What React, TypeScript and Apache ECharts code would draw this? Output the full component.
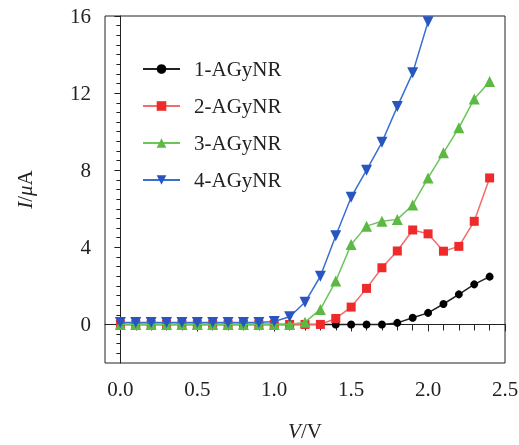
import React, { useEffect, useRef } from "react";
import * as echarts from "echarts";

const V = [0, 0.1, 0.2, 0.3, 0.4, 0.5, 0.6, 0.7, 0.8, 0.9, 1.0, 1.1, 1.2, 1.3, 1.4, 1.5, 1.6, 1.7, 1.8, 1.9, 2.0, 2.1, 2.2, 2.3, 2.4];
const s1 = [0, 0, 0, 0, 0, 0, 0, 0, 0, 0, 0, 0, 0, 0, 0, 0, 0, 0, 0.08, 0.35, 0.6, 1.06, 1.56, 2.08, 2.48];
const s2 = [0, 0, 0, 0, 0, 0, 0, 0, 0, 0, 0, 0, 0, 0, 0.31, 0.9, 1.87, 2.94, 3.81, 4.9, 4.7, 3.8, 4.05, 5.35, 7.6];
const s3 = [0, 0, 0, 0, 0, 0, 0, 0, 0, 0, 0, 0, 0.12, 0.78, 2.25, 4.15, 5.1, 5.35, 5.45, 6.2, 7.6, 8.9, 10.2, 11.7, 12.6];
const s4 = [0.1, 0.1, 0.1, 0.1, 0.1, 0.1, 0.1, 0.1, 0.1, 0.1, 0.15, 0.4, 1.15, 2.5, 4.6, 6.6, 8.0, 9.45, 11.3, 13.05, 15.7];
const names = ["1-AGyNR", "2-AGyNR", "3-AGyNR", "4-AGyNR"];

const xMajor = [0, 0.5, 1.0, 1.5, 2.0, 2.5];
const xMinor = [0, 0.1, 0.2, 0.3, 0.4, 0.5, 0.6, 0.7, 0.8, 0.9, 1.0, 1.1, 1.2, 1.3, 1.4, 1.5, 1.6, 1.7, 1.8, 1.9, 2.0, 2.1, 2.2, 2.3, 2.4, 2.5];
const yMajor = [0, 4, 8, 12, 16];
const yMinor = [-1.5, -1, -0.5, 0, 0.5, 1, 1.5, 2, 2.5, 3, 3.5, 4, 4.5, 5, 5.5, 6, 6.5, 7, 7.5, 8, 8.5, 9, 9.5, 10, 10.5, 11, 11.5, 12, 12.5, 13, 13.5, 14, 14.5, 15, 15.5];

const FONT = "'Liberation Serif', 'DejaVu Serif', serif";

export default function App() {
  const ref = useRef<HTMLDivElement>(null);
  useEffect(() => {
    if (!ref.current) return;
    const chart = echarts.init(ref.current, null, { renderer: "svg" });
    const mk = (d: number[]) => d.map((y, i) => [V[i], y]);
    const styles = [
      { sym: "circle", size: 8, c: "#000000", lc: "#222222", rot: 0 },
      { sym: "rect", size: 9, c: "#ee2a2a", lc: "#f56a6a", rot: 0 },
      { sym: "triangle", size: 11, c: "#5cb944", lc: "#6cc55a", rot: 0 },
      { sym: "triangle", size: 11, c: "#2855c0", lc: "#3a6fd0", rot: 180 },
    ];
    const data = [s1, s2, s3, s4];
    const axisColor = "#222";
    chart.setOption({
      animation: false,
      grid: { left: 105, right: 14, top: 16, bottom: 82, show: true, borderColor: axisColor, borderWidth: 1, containLabel: false, outerBoundsMode: "none" },
      legend: {
        orient: "vertical",
        left: 137,
        top: 52,
        itemWidth: 37,
        itemHeight: 12,
        itemGap: 13,
        data: names,
        textStyle: { fontFamily: FONT, fontSize: 21, color: "#222", lineHeight: 24, padding: [0, 0, 0, 9] },
      },
      xAxis: [
        {
          type: "value", min: -0.1, max: 2.5, position: "bottom",
          name: "{i|V}/V", nameLocation: "middle", nameGap: 57,
          nameTextStyle: { fontFamily: FONT, fontSize: 21, lineHeight: 22, color: "#222", rich: { i: { fontFamily: FONT, fontSize: 21, lineHeight: 22, fontStyle: "italic", color: "#222" } } },
          axisLine: { show: true, lineStyle: { color: axisColor, width: 1 } },
          axisTick: { show: true, inside: false, length: 7, customValues: xMajor, lineStyle: { color: axisColor } },
          axisLabel: { customValues: xMajor, formatter: (v: number) => v.toFixed(1), margin: 15, fontFamily: FONT, fontSize: 21, color: "#222" },
          splitLine: { show: false },
        },
        {
          type: "value", min: -0.1, max: 2.5, position: "bottom", offset: 0,
          axisLine: { show: false },
          axisTick: { show: true, inside: false, length: 6, customValues: xMinor, lineStyle: { color: axisColor } },
          axisLabel: { show: false },
          splitLine: { show: false },
        },
      ],
      yAxis: [
        {
          type: "value", min: -2, max: 16, position: "left",
          name: "{i|I}/{i|μ}A", nameLocation: "middle", nameGap: 70, nameRotate: 90,
          nameTextStyle: { fontFamily: FONT, fontSize: 21, color: "#222", rich: { i: { fontFamily: FONT, fontSize: 21, fontStyle: "italic", color: "#222" } } },
          axisLine: { show: true, lineStyle: { color: axisColor, width: 1 } },
          axisTick: { show: true, inside: false, length: 6, customValues: yMajor, lineStyle: { color: axisColor } },
          axisLabel: { customValues: yMajor, margin: 14, fontFamily: FONT, fontSize: 21, color: "#222" },
          splitLine: { show: false },
        },
        {
          type: "value", min: -2, max: 16, position: "left", offset: 0,
          axisLine: { show: false },
          axisTick: { show: true, inside: false, length: 4, customValues: yMinor, lineStyle: { color: axisColor } },
          axisLabel: { show: false },
          splitLine: { show: false },
        },
      ],
      series: data.map((d, i) => ({
        name: names[i],
        type: "line",
        xAxisIndex: 0,
        yAxisIndex: 0,
        data: mk(d),
        symbol: styles[i].sym,
        symbolSize: styles[i].size,
        symbolRotate: styles[i].rot,
        showAllSymbol: true,
        itemStyle: { color: styles[i].c },
        lineStyle: { color: styles[i].lc, width: 1.5 },
        z: 2 + i,
      })),
    });
    return () => chart.dispose();
  }, []);
  return <div ref={ref} style={{ position: "fixed", left: 0, top: 0, width: 519, height: 445 }} />;
}
